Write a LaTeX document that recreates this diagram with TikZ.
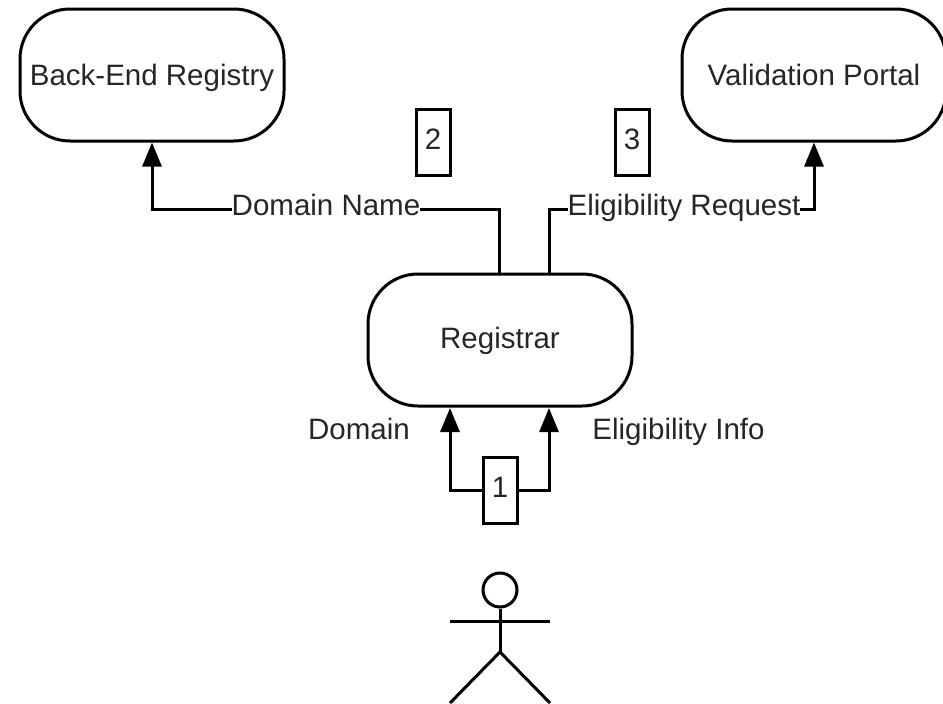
\documentclass[tikz,border=0pt]{standalone}
\usepackage{fontspec}
\setmainfont{Liberation Sans}
\usetikzlibrary{arrows.meta,positioning}
\definecolor{inktext}{gray}{0.15}
\tikzset{
 px/.style={x=1pt,y=-1pt},
 bigtext/.style={font=\fontsize{29.5pt}{34pt}\selectfont,text height=20pt,text depth=6pt,text=inktext},
 term/.style={draw,line width=3pt,rounded corners=50pt,minimum width=264pt,minimum height=132pt,inner sep=0pt,bigtext},
 tag/.style={draw,line width=3pt,fill=white,minimum width=34pt,minimum height=66pt,inner sep=0pt,bigtext},
 lab/.style={fill=white,inner sep=0pt,bigtext},
 txt/.style={inner sep=0pt,bigtext},
 conn/.style={line width=3pt,-{Triangle[length=24pt,width=19pt]}},
 plain/.style={line width=3pt},
}
\begin{document}
\begin{tikzpicture}[px]
\useasboundingbox (0,0) rectangle (943,704);
\node[term] (reg) at (152,75) {};
\node[txt] (regt) at (152,78) {Back-End Registry};
\node[term] (val) at (814,75) {};
\node[txt] (valt) at (814,78) {Validation Portal};
\node[term] (rar) at (500,340) {};
\node[txt] (rart) at (500,341) {Registrar};
\node[tag] (t2) at (433,142) {2};
\node[tag] (t3) at (632,142) {3};
\coordinate (ra) at (499.5,274);
\coordinate (rb) at (549.5,274);
\coordinate (ia) at (450,408);
\coordinate (ib) at (549,408);
\draw[conn] (ra) |- (300,209) -| (reg.south);
\draw[conn] (rb) |- (700,209) -| (val.south);
\node[lab] (ldn) at (326,208) {Domain Name};
\node[lab] (ler) at (684,208) {Eligibility Request};
\node[tag] (t1) at (500,490) {1};
\draw[conn] (t1.west) -| (ia);
\draw[conn] (t1.east) -| (ib);
\node[txt] (ld) at (359,432) {Domain};
\node[txt] (lei) at (678.5,432) {Eligibility Info};
\node[draw,circle,line width=3pt,minimum size=34pt,inner sep=0pt] (head) at (500,590) {};
\coordinate (hip) at (500,652);
\coordinate (al) at (450,621.5);
\coordinate (ar) at (550,621.5);
\coordinate (ll) at (450,703);
\coordinate (lr) at (550,703);
\draw[plain] (head.south) -- (hip);
\draw[plain] (al) -- (ar);
\draw[plain] (ll) -- (hip) -- (lr);
\end{tikzpicture}
\end{document}
